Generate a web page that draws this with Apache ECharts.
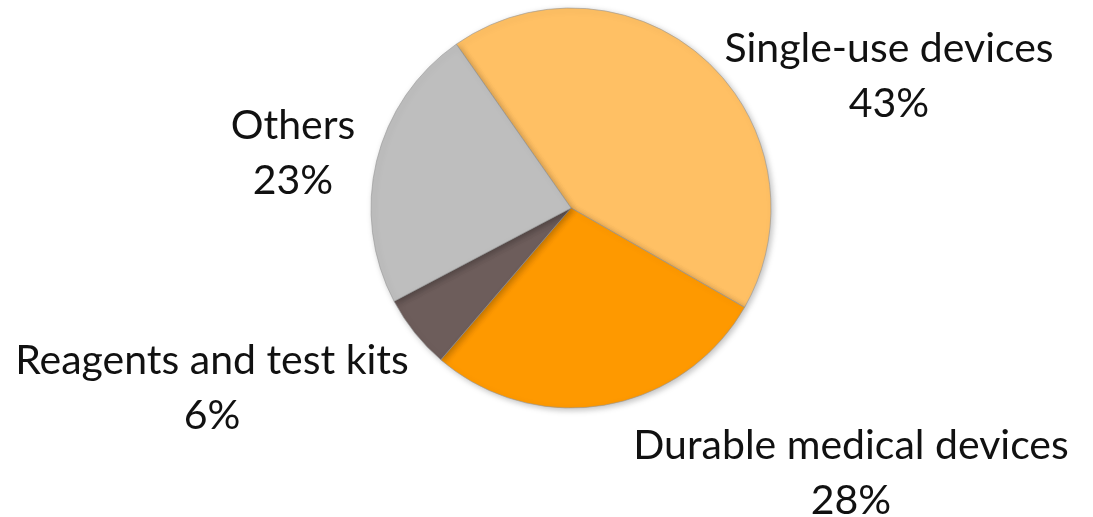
<!DOCTYPE html>
<html>
<head>
<meta charset="utf-8">
<script src="https://cdn.jsdelivr.net/npm/echarts@6/dist/echarts.min.js"></script>
<style>
    html, body { margin: 0; padding: 0; background: #fff; }
    #pieChart { width: 1093px; height: 517px; }
</style>
</head>
<body>
<div id="pieChart"></div>
<script>
// 数据
const categories = ['Single-use devices', 'Durable medical devices', 'Reagents and test kits', 'Others'];
const shares = [43, 28, 6, 23];
const sliceColors = ['#FFC064', '#FE9900', '#6D5D5B', '#BEBEBE'];

// label placement (center of each two-line label)
const labelSpots = {
    'Single-use devices': [889, 76],
    'Durable medical devices': [851, 473],
    'Reagents and test kits': [212, 388],
    'Others': [293, 153]
};

let pieChart = echarts.init(document.getElementById('pieChart'));

pieChart.setOption({
    animation: false,
    series: [
        {
            type: 'pie',
            center: [571, 208],
            radius: 200,
            startAngle: 125,
            clockwise: true,
            data: categories.map((name, i) => ({
                name: name,
                value: shares[i],
                itemStyle: { color: sliceColors[i] }
            })),
            itemStyle: {
                borderColor: 'rgba(150,150,150,0.6)',
                borderWidth: 1,
                shadowBlur: 6,
                shadowOffsetX: 2,
                shadowOffsetY: 2,
                shadowColor: 'rgba(0,0,0,0.25)'
            },
            label: {
                show: true,
                position: 'outside',
                formatter: '{b}\n{c}%',
                fontFamily: 'Lato',
                fontSize: 41,
                lineHeight: 55,
                color: '#111',
                align: 'center',
                overflow: 'none'
            },
            labelLine: { show: false },
            labelLayout: function (params) {
                const spot = labelSpots[categories[params.dataIndex]];
                return {
                    x: spot[0],
                    y: spot[1],
                    align: 'center',
                    verticalAlign: 'middle'
                };
            },
            emphasis: { disabled: true }
        }
    ]
});
</script>
</body>
</html>
